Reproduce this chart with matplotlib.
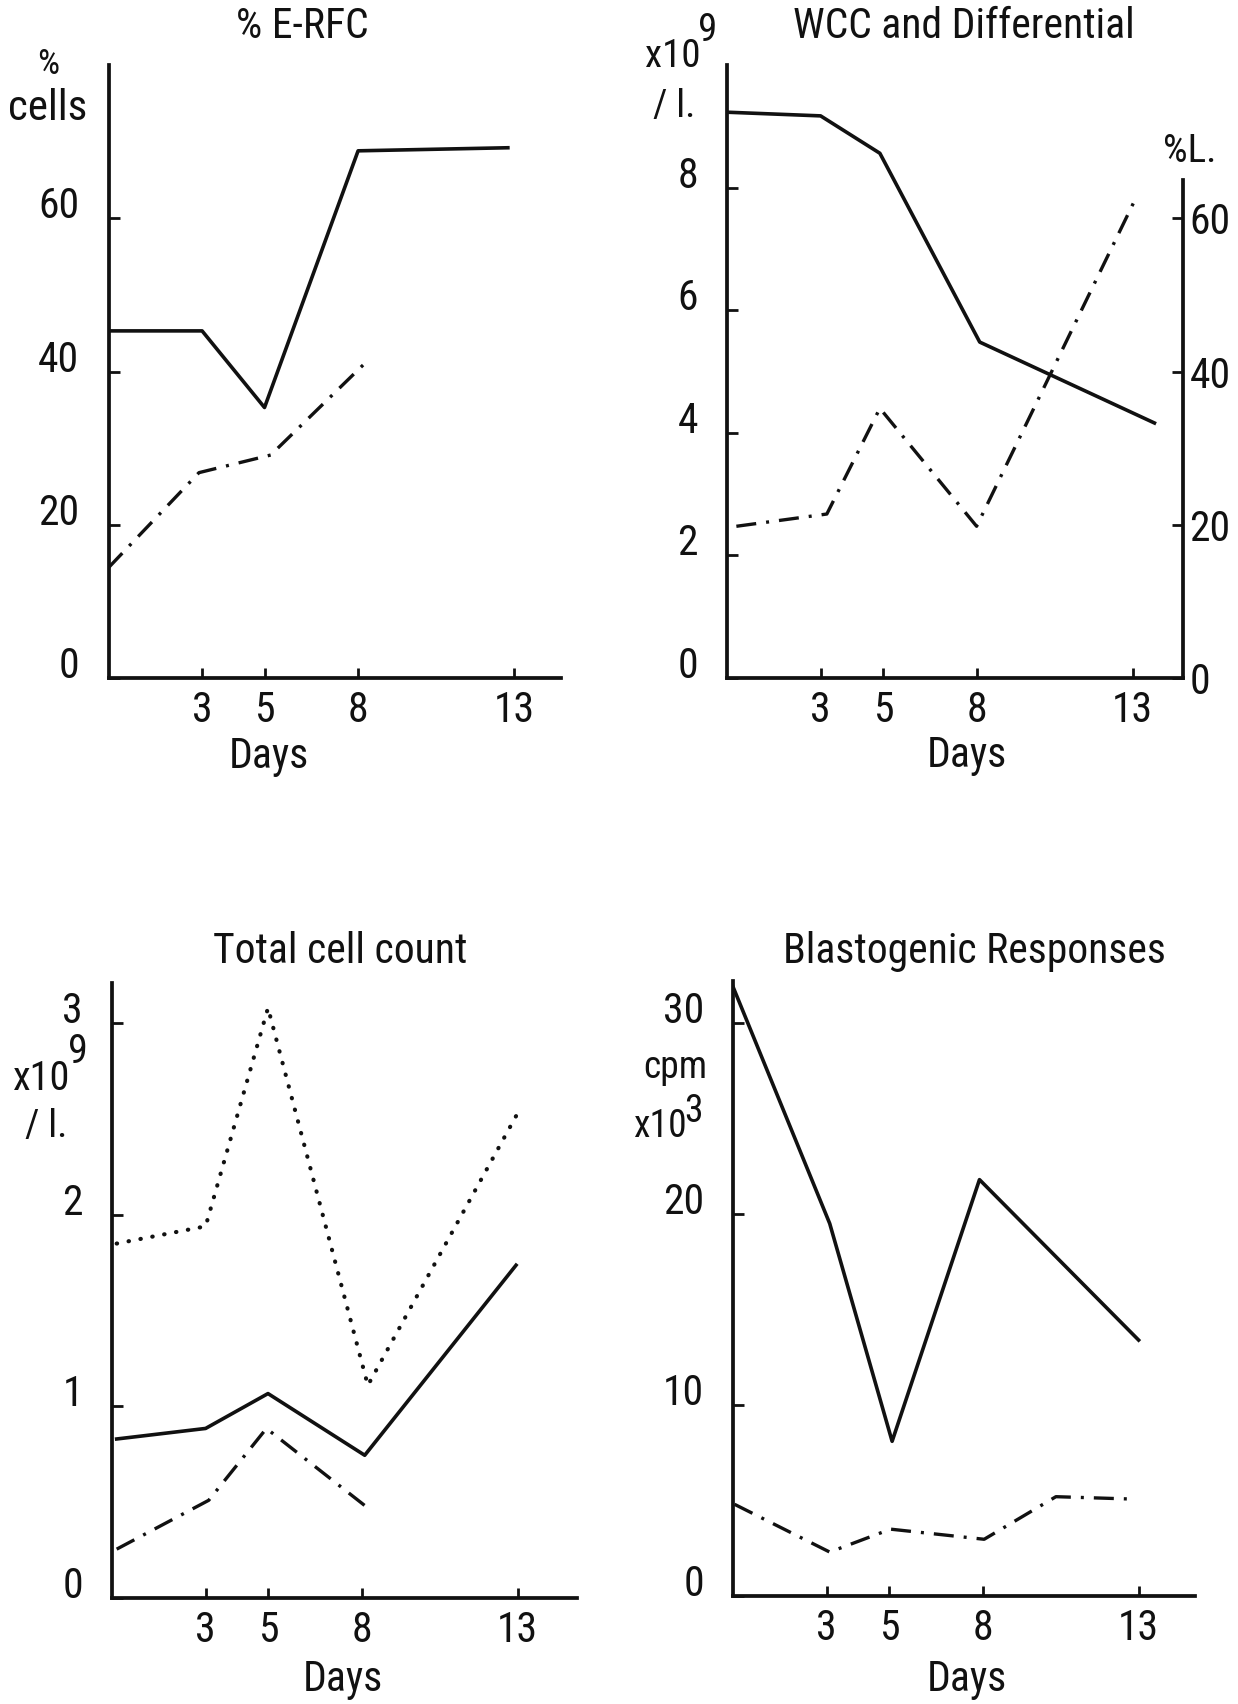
import matplotlib
matplotlib.use("Agg")
import matplotlib.pyplot as plt
from matplotlib import font_manager

# narrow typewriter-like face if one is around, otherwise condensed DejaVu
available = {f.name for f in font_manager.fontManager.ttflist}
FAMILY = 'DejaVu Sans'
for fam in ['Liberation Sans Narrow', 'Roboto Condensed', 'Open Sans Condensed', 'Noto Sans Condensed']:
    if fam in available:
        FAMILY = fam
        break
plt.rcParams['font.family'] = [FAMILY, 'DejaVu Sans']
plt.rcParams['font.stretch'] = 'condensed'

W, H = 1238, 1704

# ---- data (days after treatment) ----
# % E-RFC
erfc_days = [0, 3, 5, 8, 12.8]
erfc_pct = [45.3, 45.3, 35.3, 68.8, 69.2]
erfc2_days = [0, 2.9, 5.2, 8.3]
erfc2_pct = [14.4, 26.8, 29.1, 41.4]

# WCC (x10^9/l) and % lymphocytes
wcc_days = [0, 3, 4.9, 8.1, 13.7]
wcc = [9.23, 9.17, 8.56, 5.48, 4.16]
lymph_days = [0.3, 3.2, 4.9, 8.0, 13.1]
lymph_pct = [19.8, 21.4, 35.2, 19.8, 62.6]

# Total cell count (x10^9/l)
tot_days = [0.15, 3, 5, 8.1, 12.95]
tot_solid = [0.83, 0.885, 1.067, 0.745, 1.737]
tot_dot_days = [0.15, 3, 5, 8.2, 13]
tot_dot = [1.85, 1.94, 3.08, 1.11, 2.53]
tot_dd_days = [0.15, 3.1, 4.95, 8.2]
tot_dd = [0.255, 0.51, 0.885, 0.47]

# Blastogenic responses (cpm x10^3)
blast_days = [0, 3.1, 5.1, 7.9, 13]
blast = [31.9, 19.5, 8.1, 21.8, 13.4]
blast2_days = [0.05, 3.1, 5.05, 8.05, 10.35, 12.9]
blast2 = [4.8, 2.3, 3.5, 2.97, 5.2, 5.07]

day_ticks = [3, 5, 8, 13]

LW = 2.6
DASHDOT = (0, (6, 3, 0.9, 3))
DOTTED = (0, (0.1, 2.8))
INK = '#111111'


def fx(px):
    return px / W


def fy(py):
    return 1 - py / H


def make_axes(fig, left, xaxis_y, xmax, ymax, height=613, px_per_day=31.2):
    ax = fig.add_axes([fx(left), fy(xaxis_y), px_per_day * xmax / W, height / H])
    ax.set_xlim(0, xmax)
    ax.set_ylim(0, ymax)
    for s in ('top', 'right'):
        ax.spines[s].set_visible(False)
    for s in ('left', 'bottom'):
        ax.spines[s].set_linewidth(2.7)
        ax.spines[s].set_color(INK)
    ax.set_xticks(day_ticks)
    ax.tick_params(axis='x', direction='in', length=7, width=2, pad=9, labelsize=30,
                   color=INK, labelcolor=INK)
    ax.tick_params(axis='y', direction='in', length=8, width=2, pad=21, labelsize=30,
                   color=INK, labelcolor=INK)
    return ax


def baseline_align(ax):
    for lab in ax.get_yticklabels():
        lab.set_va('baseline')


fig = plt.figure(figsize=(W / 100, H / 100), dpi=100)


def add_power(x, y, base, exp, size=28, rise=26):
    # base text, then the exponent placed just past its right edge
    t = fig.text(fx(x), fy(y), base, ha='left', va='baseline', fontsize=size, color=INK)
    fig.canvas.draw()
    bb = t.get_window_extent()
    fig.text(bb.x1 / W - 0.002, fy(y - rise), exp, ha='left', va='baseline',
             fontsize=size, color=INK)


def label(x, y, s, size=30, **kw):
    kw.setdefault('ha', 'center')
    kw.setdefault('va', 'center')
    fig.text(fx(x), fy(y), s, fontsize=size, color=INK, **kw)


# ---- % E-RFC ----
ax1 = make_axes(fig, 108.5, 678, 14.5, 80)
ax1.set_yticks([0, 20, 40, 60])
baseline_align(ax1)
ax1.plot(erfc_days, erfc_pct, color=INK, lw=LW)
ax1.plot(erfc2_days, erfc2_pct, color=INK, lw=2.4, linestyle=DASHDOT)
label(302, 27, '% E-RFC')
label(48, 64, '%', size=25)
label(48, 120, 'cells', size=31, va='baseline')
label(269, 757, 'Days')

# ---- WCC and Differential ----
ax2 = make_axes(fig, 727, 678, 14.6, 10)
ax2.set_yticks([0, 2, 4, 6, 8])
baseline_align(ax2)
ax2.plot(wcc_days, wcc, color=INK, lw=LW)
ax2r = ax2.twinx()
ax2r.set_ylim(0, 80)
for s in ('top', 'left', 'bottom'):
    ax2r.spines[s].set_visible(False)
ax2r.spines['right'].set_linewidth(2.7)
ax2r.spines['right'].set_color(INK)
ax2r.spines['right'].set_bounds(0, 65)
ax2r.set_yticks([0, 20, 40, 60])
ax2r.tick_params(axis='y', direction='in', length=8, width=2, pad=5, labelsize=30,
                 color=INK, labelcolor=INK)
ax2r.plot(lymph_days, lymph_pct, color=INK, lw=2.4, linestyle=DASHDOT)
label(964, 27, 'WCC and Differential')
add_power(645, 67, 'x10', '9')
label(653, 117, '/ l.', size=28, ha='left', va='baseline')
label(1163, 162, '%L.', size=28, ha='left', va='baseline')
label(967, 755, 'Days')

# ---- Total cell count ----
ax3 = make_axes(fig, 112, 1598, 14.9, 3.21, height=615)
ax3.set_yticks([0, 1, 2, 3])
baseline_align(ax3)
ax3.plot(tot_days, tot_solid, color=INK, lw=LW)
ax3.plot(tot_dot_days, tot_dot, color=INK, lw=3, linestyle=DOTTED,
         dash_capstyle='round')
ax3.plot(tot_dd_days, tot_dd, color=INK, lw=2.4, linestyle=DASHDOT)
label(340, 952, 'Total cell count')
add_power(13, 1090, 'x10', '9', size=29, rise=27)
label(25, 1137, '/ l.', size=28, ha='left', va='baseline')
label(343, 1680, 'Days')

# ---- Blastogenic Responses ----
ax4 = make_axes(fig, 733, 1596, 14.8, 32.2, height=615)
ax4.set_yticks([0, 10, 20, 30])
baseline_align(ax4)
ax4.plot(blast_days, blast, color=INK, lw=LW)
ax4.plot(blast2_days, blast2, color=INK, lw=2.4, linestyle=DASHDOT)
label(974, 952, 'Blastogenic Responses')
label(643, 1078, 'cpm', size=27, ha='left', va='baseline')
add_power(633, 1137, 'x10', '3', size=27, rise=15)
label(967, 1680, 'Days')

fig.savefig('out.png', dpi=100, facecolor='white')
